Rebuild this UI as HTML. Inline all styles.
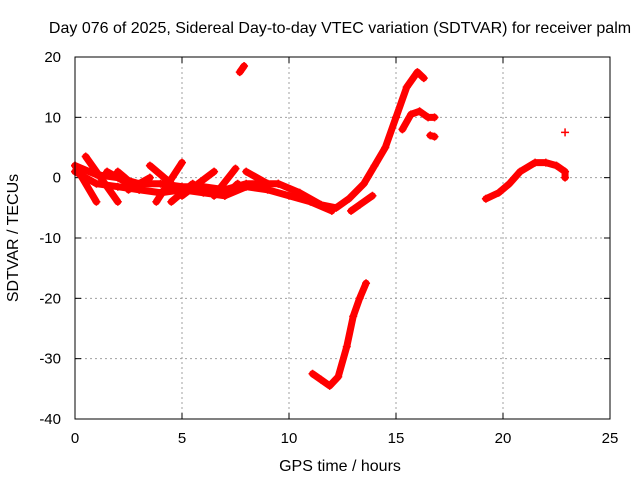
<!DOCTYPE html>
<html><head><meta charset="utf-8"><style>
body{margin:0;background:#fff;}
svg{display:block;font-family:"Liberation Sans",sans-serif;}
</style></head><body>
<svg id="chart" width="640" height="480">
<rect width="640" height="480" fill="#fff"/>
<text x="340" y="33" text-anchor="middle" font-size="16">Day 076 of 2025, Sidereal Day-to-day VTEC variation (SDTVAR) for receiver palm</text>
<text x="340" y="471" text-anchor="middle" font-size="16">GPS time / hours</text>
<text transform="translate(18,238) rotate(-90)" text-anchor="middle" font-size="16">SDTVAR / TECUs</text>
<g id="grid"></g><g id="ticks"></g><g id="marks"></g>
<rect x="75" y="57" width="535" height="362" fill="none" stroke="#000" stroke-width="1"/>
</svg>
<script>
const xTicks=[0,5,10,15,20,25];
const yTicks=[20,10,0,-10,-20,-30,-40];
const trackMain=[[9.5,-1],[10.5,-2.5],[11.5,-4.5],[12.2,-5],[12.8,-3.5],[13.5,-1],[14,2],[14.5,5],[15,10],[15.5,15],[16,17.5],[16.3,16.5]];
const trackUpper2=[[15.3,8],[15.7,10.5],[16.1,11],[16.5,10],[16.8,10]];
const trackSmall=[[16.6,7],[16.8,6.8]];
const trackShort=[[12.9,-5.5],[13.3,-4.5],[13.9,-3]];
const trackDip=[[11.1,-32.5],[11.5,-33.5],[11.9,-34.5],[12.3,-33],[12.7,-28],[13.0,-23],[13.3,-20],[13.6,-17.5]];
const trackIso=[[7.7,17.5],[7.9,18.5]];
const trackLate=[[19.2,-3.5],[19.8,-2.5],[20.3,-1],[20.8,1],[21.5,2.5],[22,2.5],[22.5,2],[22.9,1],[22.9,0]];
const trackLone=[[22.9,7.5]];
const trackBand=[[0,2],[1,0.5],[2,0],[3,-1],[4,-1],[5,-1.5],[6,-1.5],[7,-2],[8,-1],[9,-1],[9.5,-1]];
const trackBand2=[[0,1],[1,-1],[2,-1.5],[3,-2],[4,-2.5],[5,-2],[6,-2.5],[7,-3],[8,-1.5],[9,-2],[10,-3],[11,-4],[12,-5.5]];
const strokes=[[[0,2],[1,-4]],[[0.5,3.5],[2,-4]],[[2,1],[3,-2]],[[3.5,2],[4.5,-1]],[[3.8,-4],[5,2.5]],[[5,-3],[6.5,1]],[[6.5,-3],[7.5,1.5]],[[8,1],[9,-1]],[[2.5,-2],[3.5,0]],[[1.5,1],[2.5,-1]],[[4.5,-4],[5.5,-1]],[[7,-3],[7.6,-1]]];
const tracks=[trackMain,trackUpper2,trackSmall,trackShort,trackDip,trackIso,trackLate,trackLone,trackBand,trackBand2,...strokes];
const X=t=>75+t*21.4, Y=v=>57+(20-v)*6.0333;
const NS="http://www.w3.org/2000/svg";
const grid=document.getElementById('grid'),ticks=document.getElementById('ticks'),marks=document.getElementById('marks');
function mk(tag,attrs,parent){const e=document.createElementNS(NS,tag);for(const k in attrs)e.setAttribute(k,attrs[k]);parent.appendChild(e);return e;}
xTicks.forEach(t=>{
 if(t>0&&t<25){const g=mk('line',{x1:X(t),x2:X(t),y1:57,y2:419,stroke:'#a0a0a0','stroke-dasharray':'2,3'},grid);
 
 }
 mk('line',{x1:X(t),x2:X(t),y1:419,y2:413,stroke:'#000'},ticks);mk('line',{x1:X(t),x2:X(t),y1:57,y2:63,stroke:'#000'},ticks);
 const l=mk('text',{x:X(t),y:443,'text-anchor':'middle','font-size':15},ticks);l.textContent=t;
 
 
});
yTicks.forEach(v=>{
 if(v<20&&v>-40){const g=mk('line',{x1:75,x2:610,y1:Y(v),y2:Y(v),stroke:'#a0a0a0','stroke-dasharray':'2,3'},grid);
 
 }
 mk('line',{x1:75,x2:81,y1:Y(v),y2:Y(v),stroke:'#000'},ticks);mk('line',{x1:610,x2:604,y1:Y(v),y2:Y(v),stroke:'#000'},ticks);
 const l=mk('text',{x:61,y:Y(v)+5,'text-anchor':'end','font-size':15},ticks);l.textContent=v;
 
 
});
tracks.forEach(tr=>{
 const p=mk('polyline',{points:tr.map(d=>X(d[0])+','+Y(d[1])).join(' '),fill:'none',stroke:'#f00','stroke-width':7,'stroke-linejoin':'round','stroke-linecap':'round'},marks);
 
 
 tr.forEach(d=>{const m=mk('path',{d:`M${X(d[0])-4},${Y(d[1])}h8M${X(d[0])},${Y(d[1])-4}v8`,stroke:'#f00','stroke-width':1.5},marks);
 
 });
});
</script>
</body></html>
